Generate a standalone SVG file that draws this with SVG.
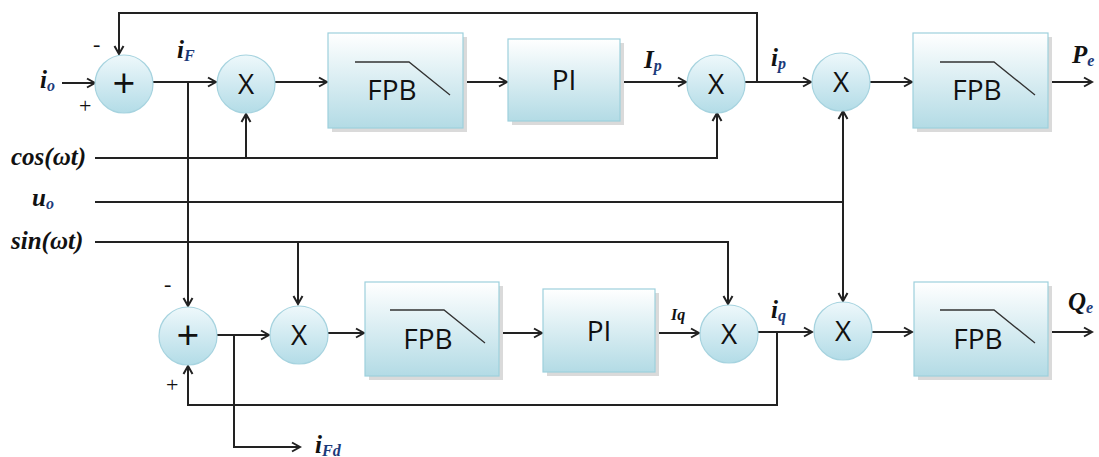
<svg xmlns="http://www.w3.org/2000/svg" width="1099" height="457" viewBox="0 0 1099 457">
<defs>
<linearGradient id="gc" x1="0" y1="0" x2="0" y2="1">
<stop offset="0" stop-color="#eef8fb"/><stop offset="1" stop-color="#b3dce7"/>
</linearGradient>
<linearGradient id="gb" x1="0" y1="0" x2="0" y2="1">
<stop offset="0" stop-color="#ffffff"/><stop offset="1" stop-color="#b3dbe5"/>
</linearGradient>
<marker id="ar" markerUnits="userSpaceOnUse" markerWidth="12" markerHeight="12" refX="10" refY="6" orient="auto">
<path d="M2,1.5 L10,6 L2,10.5" fill="none" stroke="#222" stroke-width="2"/>
</marker>
<style>
.c{fill:url(#gc);stroke:#a6d3df;stroke-width:1.2}
.b{fill:url(#gb);stroke:#9dd0dd;stroke-width:1.2}
.sh{fill:#dadada}
.w{fill:none;stroke:#222;stroke-width:2}
.a{marker-end:url(#ar)}
.lp{fill:none;stroke:#333;stroke-width:1.3}
.t{font-family:"Open Sans","Liberation Sans",sans-serif;font-size:28px;fill:#111;text-anchor:middle}
.pl{font-size:40px}
.l{font-family:"Liberation Serif",serif;font-style:italic;font-weight:bold;font-size:25px;fill:#111}
.s{font-size:16px;fill:#1b3a7a}
.sm{font-size:16px}
.p{font-family:"Liberation Serif",serif;font-size:22px;fill:#111}
</style>
</defs>
<g id="connectors">
<path class="w a" d="M62,83 H95"/>
<path class="w a" d="M153,82 H216"/>
<path class="w a" d="M275,82 H327"/>
<path class="w a" d="M463,82 H507"/>
<path class="w a" d="M620,82 H686"/>
<path class="w a" d="M745,82 H811"/>
<path class="w a" d="M870,82 H912"/>
<path class="w a" d="M1048,82 H1092"/>
<path class="w a" d="M757,82 V13 H119 V54"/>
<path class="w a" d="M95,158 H717 V113"/>
<path class="w a" d="M246,158 V114"/>
<path class="w" d="M95,202 H843"/>
<path class="w a" d="M843,202 V111"/>
<path class="w a" d="M843,202 V301"/>
<path class="w a" d="M188,82 V306"/>
<path class="w a" d="M95,242 H728 V304"/>
<path class="w a" d="M298,242 V304"/>
<path class="w a" d="M217,335 H269"/>
<path class="w a" d="M234,335 V447 H300"/>
<path class="w a" d="M328,333 H364"/>
<path class="w a" d="M499,333 H542"/>
<path class="w a" d="M655,333 H699"/>
<path class="w a" d="M758,332 H812"/>
<path class="w a" d="M777,332 V405 H188 V366"/>
<path class="w a" d="M872,332 H912"/>
<path class="w a" d="M1048,332 H1092"/>
</g>
<g id="sum1"><circle class="c" cx="124" cy="84" r="29"/><text class="t pl" x="124" y="98">+</text></g>
<g id="mul1"><circle class="c" cx="246" cy="84" r="29"/><text class="t" x="246" y="94">X</text></g>
<g id="fpb1"><rect class="sh" x="332" y="37" width="135" height="95"/><rect class="b" x="328" y="33" width="135" height="95"/><path class="lp" d="M355,62 H409 L450,95"/><text class="t" x="392" y="100">FPB</text></g>
<g id="pi1"><rect class="sh" x="512" y="43" width="112" height="82"/><rect class="b" x="508" y="39" width="112" height="82"/><text class="t" x="564" y="90">PI</text></g>
<g id="mul2"><circle class="c" cx="716" cy="84" r="29"/><text class="t" x="716" y="94">X</text></g>
<g id="mul3"><circle class="c" cx="841" cy="82" r="29"/><text class="t" x="841" y="92">X</text></g>
<g id="fpb2"><rect class="sh" x="917" y="37" width="135" height="95"/><rect class="b" x="913" y="33" width="135" height="95"/><path class="lp" d="M940,62 H994 L1035,95"/><text class="t" x="977" y="100">FPB</text></g>
<g id="sum2"><circle class="c" cx="188" cy="336" r="29"/><text class="t pl" x="188" y="350">+</text></g>
<g id="mul4"><circle class="c" cx="299" cy="335" r="29"/><text class="t" x="299" y="345">X</text></g>
<g id="fpb3"><rect class="sh" x="369" y="286" width="134" height="94"/><rect class="b" x="365" y="282" width="134" height="94"/><path class="lp" d="M390,310 H444 L485,343"/><text class="t" x="428" y="349">FPB</text></g>
<g id="pi2"><rect class="sh" x="547" y="293" width="112" height="83"/><rect class="b" x="543" y="289" width="112" height="83"/><text class="t" x="599" y="341">PI</text></g>
<g id="mul5"><circle class="c" cx="729" cy="334" r="29"/><text class="t" x="729" y="344">X</text></g>
<g id="mul6"><circle class="c" cx="843" cy="331" r="29"/><text class="t" x="843" y="341">X</text></g>
<g id="fpb4"><rect class="sh" x="918" y="286" width="134" height="94"/><rect class="b" x="914" y="282" width="134" height="94"/><path class="lp" d="M940,310 H994 L1035,343"/><text class="t" x="978" y="349">FPB</text></g>
<g id="labels">
<text class="l" x="40" y="88">i<tspan class="s" dy="3">o</tspan></text>
<text class="p" x="79" y="113">+</text>
<text class="p" x="93" y="51">-</text>
<text class="l" x="177" y="58">i<tspan class="s" dy="3">F</tspan></text>
<text class="l" x="11" y="165">cos(ωt)</text>
<text class="l" x="32" y="206">u<tspan class="s" dy="3">o</tspan></text>
<text class="l" x="11" y="249">sin(ωt)</text>
<text class="l" x="644" y="68">I<tspan class="s" dy="3">p</tspan></text>
<text class="l" x="771" y="66">i<tspan class="s" dy="3">p</tspan></text>
<text class="l" x="1072" y="63">P<tspan class="s" dy="3">e</tspan></text>
<text class="p" x="164" y="291">-</text>
<text class="p" x="166" y="392">+</text>
<text class="l sm" x="671" y="320">Iq</text>
<text class="l" x="771" y="318">i<tspan class="s" dy="3">q</tspan></text>
<text class="l" x="1068" y="310">Q<tspan class="s" dy="3">e</tspan></text>
<text class="l" x="315" y="453">i<tspan class="s" dy="3">Fd</tspan></text>
</g>
</svg>
